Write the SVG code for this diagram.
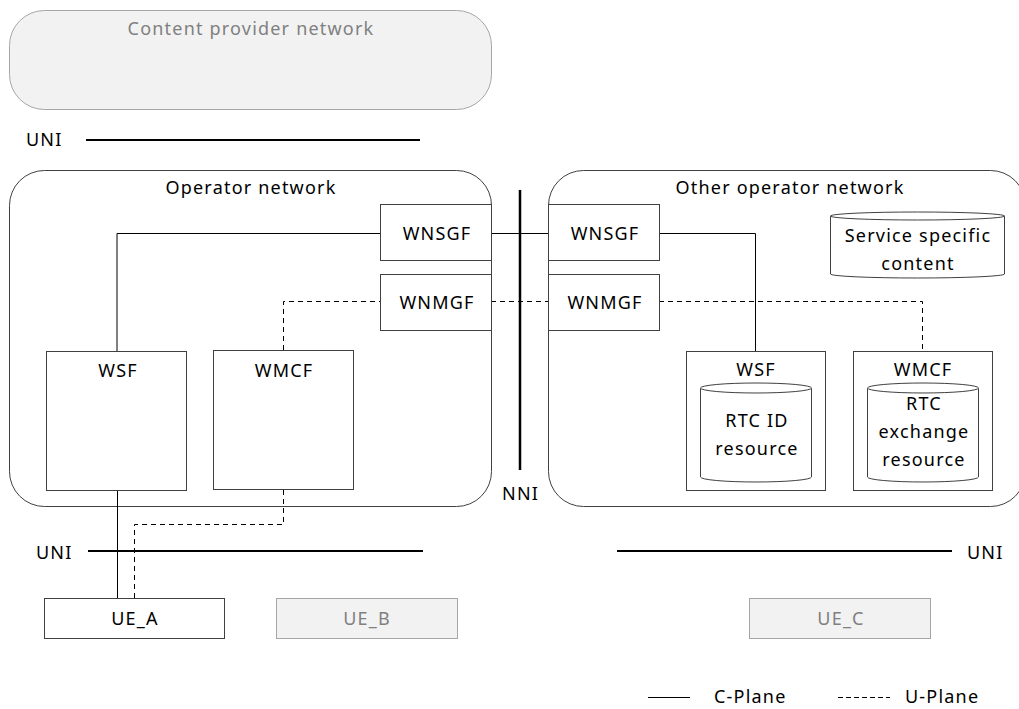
<svg xmlns="http://www.w3.org/2000/svg" width="1019" height="709" viewBox="0 0 1019 709">
  <style>
    text { font-family: "Noto Sans", "DejaVu Sans", sans-serif; font-size: 18px; letter-spacing: 1.2px; fill: #000; }
    .mid { text-anchor: middle; }
    .grey { fill: #808080; }
    .box { fill: #fff; stroke: #404040; stroke-width: 1; }
    .net { fill: #fff; stroke: #404040; stroke-width: 1; }
    .ghost { fill: #f2f2f2; stroke: #a6a6a6; stroke-width: 1; }
    .iface { stroke: #000; stroke-width: 2; fill: none; }
    .cp { stroke: #000; stroke-width: 1; fill: none; }
    .up { stroke: #000; stroke-width: 1; fill: none; stroke-dasharray: 5 4; }
  </style>

  <!-- networks -->
  <g id="content-provider">
    <rect class="ghost" x="9.5" y="10.5" width="482" height="99" rx="35"/>
    <text class="mid grey" x="251" y="35">Content provider network</text>
  </g>
  <g id="operator-network">
    <rect class="net" x="9.5" y="170.5" width="482" height="336" rx="35"/>
    <text class="mid" x="251" y="194">Operator network</text>
  </g>
  <g id="other-operator-network">
    <rect class="net" x="548.5" y="170.5" width="477" height="336" rx="35"/>
    <text class="mid" x="790" y="194">Other operator network</text>
  </g>

  <!-- reference points -->
  <g id="uni-top">
    <text x="26" y="146">UNI</text>
    <line class="iface" x1="86" y1="140" x2="420" y2="140"/>
  </g>
  <g id="nni">
    <line class="iface" x1="520" y1="190" x2="520" y2="470" style="stroke-width:2.5"/>
    <text x="502" y="500">NNI</text>
  </g>
  <g id="uni-left">
    <text x="36" y="559">UNI</text>
    <line class="iface" x1="88" y1="551" x2="423" y2="551"/>
  </g>
  <g id="uni-right">
    <line class="iface" x1="617" y1="551" x2="952" y2="551"/>
    <text x="967" y="559">UNI</text>
  </g>

  <!-- connectors -->
  <g id="connectors">
    <polyline class="cp" points="117,351 117,233.5 380,233.5"/>
    <line class="cp" x1="491" y1="233.5" x2="548" y2="233.5"/>
    <polyline class="cp" points="659,233.5 755.5,233.5 755.5,351"/>
    <polyline class="up" points="283.5,350 283.5,301.5 380,301.5"/>
    <line class="up" x1="491" y1="301.5" x2="548" y2="301.5"/>
    <polyline class="up" points="659,301.5 922.5,301.5 922.5,350"/>
    <line class="cp" x1="117.5" y1="490" x2="117.5" y2="598"/>
    <polyline class="up" points="283.5,490 283.5,524.5 134.5,524.5 134.5,598"/>
  </g>

  <!-- gateways -->
  <g id="wnsgf-left">
    <rect class="box" x="380.5" y="204.5" width="111" height="56"/>
    <text class="mid" x="437" y="240">WNSGF</text>
  </g>
  <g id="wnmgf-left">
    <rect class="box" x="380.5" y="274.5" width="111" height="56"/>
    <text class="mid" x="437" y="309">WNMGF</text>
  </g>
  <g id="wnsgf-right">
    <rect class="box" x="548.5" y="204.5" width="111" height="56"/>
    <text class="mid" x="605" y="240">WNSGF</text>
  </g>
  <g id="wnmgf-right">
    <rect class="box" x="548.5" y="274.5" width="111" height="56"/>
    <text class="mid" x="605" y="309">WNMGF</text>
  </g>

  <!-- operator functions -->
  <g id="wsf-left">
    <rect class="box" x="46.5" y="351.5" width="140" height="139"/>
    <text class="mid" x="118" y="377">WSF</text>
  </g>
  <g id="wmcf-left">
    <rect class="box" x="213.5" y="350.5" width="140" height="139"/>
    <text class="mid" x="284" y="377">WMCF</text>
  </g>

  <g id="wsf-right">
    <rect class="box" x="686.5" y="351.5" width="139" height="139"/>
    <text class="mid" x="756" y="376">WSF</text>
    <path class="box" d="M700.5,388 A55.5,5 0 0 1 811.5,388 V477 A55.5,5 0 0 1 700.5,477 Z"/>
    <path class="box" d="M700.5,388 A55.5,5 0 0 0 811.5,388" fill="none"/>
    <text class="mid" x="757" y="427">RTC ID</text>
    <text class="mid" x="757" y="455">resource</text>
  </g>
  <g id="wmcf-right">
    <rect class="box" x="853.5" y="351.5" width="139" height="139"/>
    <text class="mid" x="923" y="376">WMCF</text>
    <path class="box" d="M867.5,388 A55.5,5 0 0 1 978.5,388 V477 A55.5,5 0 0 1 867.5,477 Z"/>
    <path class="box" d="M867.5,388 A55.5,5 0 0 0 978.5,388" fill="none"/>
    <text class="mid" x="924" y="410">RTC</text>
    <text class="mid" x="924" y="438">exchange</text>
    <text class="mid" x="924" y="466">resource</text>
  </g>
  <g id="service-content">
    <path class="box" d="M830.5,216 A87,4 0 0 1 1004.5,216 V274 A87,4 0 0 1 830.5,274 Z"/>
    <path class="box" d="M830.5,216 A87,4 0 0 0 1004.5,216" fill="none"/>
    <text class="mid" x="918" y="242">Service specific</text>
    <text class="mid" x="918" y="270">content</text>
  </g>

  <!-- user equipment -->
  <g id="ue-a">
    <rect class="box" x="44.5" y="598.5" width="180" height="40"/>
    <text class="mid" x="135" y="625">UE_A</text>
  </g>
  <g id="ue-b">
    <rect class="ghost" x="276.5" y="598.5" width="181" height="40"/>
    <text class="mid grey" x="367" y="625">UE_B</text>
  </g>
  <g id="ue-c">
    <rect class="ghost" x="749.5" y="598.5" width="181" height="40"/>
    <text class="mid grey" x="841" y="625">UE_C</text>
  </g>

  <!-- legend -->
  <g id="legend">
    <line class="cp" x1="648" y1="697.5" x2="690" y2="697.5"/>
    <text x="714" y="703">C-Plane</text>
    <line class="up" x1="838" y1="697.5" x2="890" y2="697.5" style="stroke-dasharray:5 3"/>
    <text x="905" y="703">U-Plane</text>
  </g>
</svg>
